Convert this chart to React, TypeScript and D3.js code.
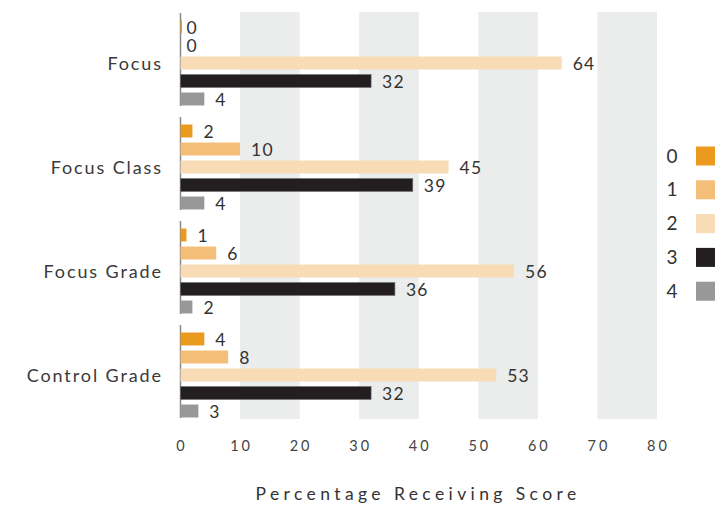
import React, { useEffect, useRef } from 'react';
import * as d3 from 'd3';

const categories = ['Focus', 'Focus Class', 'Focus Grade', 'Control Grade'];
const scoreKeys = ['0', '1', '2', '3', '4'];
const scoreColors = ['#EA9A1E', '#F2BE78', '#F7DCB6', '#231F20', '#97989A'];
// percentage receiving each score, one row per category
const values = [
    [0, 0, 64, 32, 4],
    [2, 10, 45, 39, 4],
    [1, 6, 56, 36, 2],
    [4, 8, 53, 32, 3],
];
const xTicks = [0, 10, 20, 30, 40, 50, 60, 70, 80];
const shadedBands = [
    [10, 20],
    [30, 40],
    [50, 60],
    [70, 80],
];

const FONT = 'Lato, "Noto Sans", sans-serif';

export default function App() {
    const ref = useRef<SVGSVGElement>(null);

    useEffect(() => {
        const svg = d3.select(ref.current);
        svg.selectAll('*').remove();

        const x = d3.scaleLinear().domain([0, 80]).range([180.5, 657]);
        const y = d3.scaleBand<string>().domain(categories).range([11, 427]).padding(0);
        const yInner = d3
            .scaleBand<string>()
            .domain(scoreKeys)
            .range([7, 97])
            .paddingInner(0.28)
            .paddingOuter(0.14);

        // background bands
        svg.append('g')
            .selectAll('rect')
            .data(shadedBands)
            .join('rect')
            .attr('x', (d) => x(d[0]))
            .attr('width', (d) => x(d[1]) - x(d[0]))
            .attr('y', 12)
            .attr('height', 407)
            .attr('fill', '#EBECEC');

        const groups = svg
            .append('g')
            .selectAll('g')
            .data(categories)
            .join('g')
            .attr('transform', (d) => 'translate(0,' + y(d) + ')');

        groups
            .append('line')
            .attr('x1', x(0))
            .attr('x2', x(0))
            .attr('y1', 2)
            .attr('y2', 95)
            .attr('stroke', '#8a8a8a')
            .attr('stroke-width', 1.5);

        groups
            .append('text')
            .attr('x', 163)
            .attr('y', 53)
            .attr('dy', '0.35em')
            .attr('text-anchor', 'end')
            .attr('font-family', FONT)
            .attr('font-size', 18)
            .attr('letter-spacing', 1.9)
            .attr('fill', '#3a3a3a')
            .text((d) => d);

        groups.each(function (cat, ci) {
            const g = d3.select(this);
            const rows = values[ci].map((v, i) => ({ key: scoreKeys[i], v, i }));
            g.selectAll('rect.bar')
                .data(rows)
                .join('rect')
                .attr('class', 'bar')
                .attr('x', x(0))
                .attr('y', (d) => yInner(d.key)!)
                .attr('width', (d) => (d.v === 0 && d.i === 0 ? 1.5 : x(d.v) - x(0)))
                .attr('height', yInner.bandwidth())
                .attr('fill', (d) => scoreColors[d.i])
                .attr('stroke', (d) => (d.i === 3 ? '#6d6d6d' : 'none'))
                .attr('stroke-width', 0.6);

            g.selectAll('text.val')
                .data(rows)
                .join('text')
                .attr('class', 'val')
                .attr('x', (d) => x(d.v) + (d.v === 0 ? 6 : 11))
                .attr('y', (d) => yInner(d.key)! + yInner.bandwidth() / 2 + 1)
                .attr('dy', '0.36em')
                .attr('font-family', FONT)
                .attr('font-size', 17.5)
                .attr('letter-spacing', 1.2)
                .attr('fill', '#333')
                .text((d) => d.v);
        });

        // x axis tick labels
        svg.append('g')
            .selectAll('text')
            .data(xTicks)
            .join('text')
            .attr('x', (d) => x(d) + 1.5)
            .attr('y', 446)
            .attr('dy', '0.35em')
            .attr('text-anchor', 'middle')
            .attr('font-family', FONT)
            .attr('font-size', 14.5)
            .attr('letter-spacing', 3)
            .attr('fill', '#444')
            .text((d) => d);

        svg.append('text')
            .attr('x', 418)
            .attr('y', 494)
            .attr('dy', '0.35em')
            .attr('text-anchor', 'middle')
            .attr('font-family', FONT)
            .attr('font-size', 17.5)
            .attr('letter-spacing', 4.4)
            .attr('fill', '#333')
            .text('Percentage Receiving Score');

        // legend
        const legend = svg
            .append('g')
            .selectAll('g')
            .data(scoreKeys)
            .join('g')
            .attr('transform', (d, i) => 'translate(0,' + (156 + i * 33.8) + ')');
        legend
            .append('text')
            .attr('x', 672)
            .attr('dy', '0.35em')
            .attr('text-anchor', 'middle')
            .attr('font-family', FONT)
            .attr('font-size', 19)
            .attr('fill', '#333')
            .text((d) => d);
        legend
            .append('rect')
            .attr('x', 696)
            .attr('y', -9.5)
            .attr('width', 19)
            .attr('height', 19)
            .attr('fill', (d, i) => scoreColors[i]);
    }, []);

    return (
        <svg
            ref={ref}
            width={715}
            height={506}
            style={{ position: 'absolute', left: 0, top: 0, display: 'block', background: '#fff' }}
        />
    );
}
